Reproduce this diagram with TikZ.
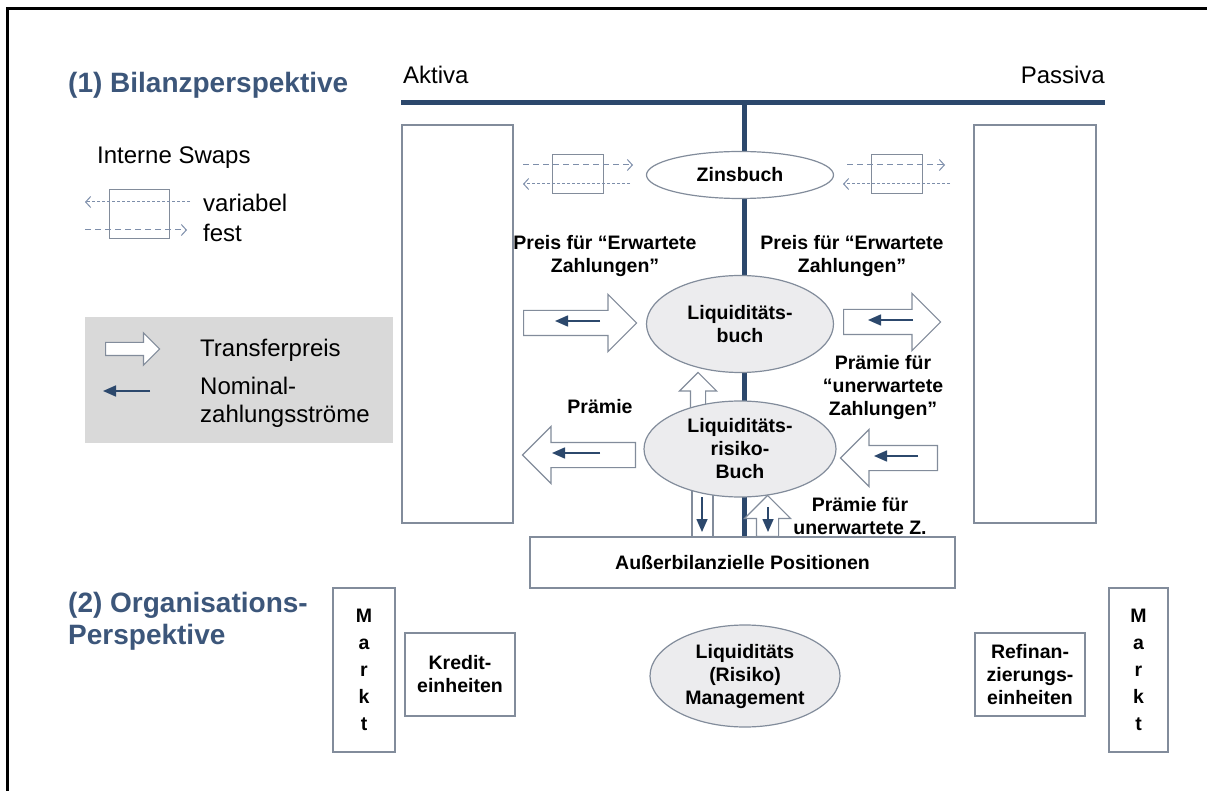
\documentclass[tikz,border=0pt]{standalone}
\usepackage{fontspec}
\setmainfont{Liberation Sans}
\usetikzlibrary{arrows.meta,shapes.geometric,shapes.arrows}
\definecolor{linieblau}{RGB}{44,72,108}
\definecolor{titelblau}{RGB}{60,86,122}
\definecolor{rahmengrau}{RGB}{130,140,155}
\definecolor{swapgrau}{RGB}{125,142,170}
\definecolor{legendegrau}{RGB}{217,217,217}
\definecolor{buchgrau}{RGB}{236,236,238}
\newcommand{\titelschrift}{\fontsize{28}{32}\selectfont\bfseries}
\newcommand{\fettschrift}{\fontsize{19.5}{23}\selectfont\bfseries}
\newcommand{\textschrift}{\fontsize{24}{28}\selectfont}
\newcommand{\marktschrift}{\fontsize{19.5}{27}\selectfont\bfseries}

\begin{document}
\begin{tikzpicture}[x=1pt,y=-1pt,
	box/.style={draw=rahmengrau, line width=1.2pt, fill=white, inner sep=0pt, align=center, font=\fettschrift},
	buch/.style={ellipse, draw=rahmengrau, line width=1.2pt, fill=buchgrau, inner sep=0pt, align=center, font=\fettschrift},
	transfer/.style={single arrow, draw=rahmengrau, line width=1.2pt, fill=white, inner sep=12pt, single arrow head extend=16pt, minimum height=#1},
	nominal/.style={linieblau, line width=1.6pt, -{Triangle[length=13pt,width=11pt]}},
	fest/.style={swapgrau, line width=1pt, dash pattern=on 6pt off 4pt, -{Straight Barb[length=5pt,width=11pt]}},
	variabel/.style={swapgrau, line width=1pt, dash pattern=on 3pt off 2pt, -{Straight Barb[length=5pt,width=11pt]}},
	swapbox/.style={draw=rahmengrau, line width=1pt},
	beschr/.style={align=center, font=\fettschrift, inner sep=0pt},
	titel/.style={align=left, font=\titelschrift, text=titelblau, inner sep=0pt, anchor=west}]
	%%%%% START %%%%%
	\useasboundingbox (0,0) rectangle (1207,791);
	
	% frame
	\draw[line width=3pt] (7,791) -- (7,9) -- (1207,9);
	
	% headings
	\node[titel] (bilanz) at (68,85) {(1) Bilanzperspektive};
	\node[titel] (orga) at (68,621) {(2) Organisations-\\Perspektive};
	\node[font=\textschrift, inner sep=0pt, anchor=west] (aktiva) at (403,75) {Aktiva};
	\node[font=\textschrift, inner sep=0pt, anchor=east] (passiva) at (1105,75) {Passiva};
	
	% balance sheet lines
	\draw[linieblau, line width=5pt] (401,103) -- (1105,103);
	\draw[linieblau, line width=5pt] (744,103) -- (744,537);
	
	\node[box, minimum width=111, minimum height=398] (aktivseite) at (457.5,324) {};
	\node[box, minimum width=122, minimum height=398] (passivseite) at (1035,324) {};
	
	% legend swaps
	\node[font=\textschrift, inner sep=0pt, anchor=west] (swaps) at (97,158) {Interne Swaps};
	\draw[swapbox] (109,190) rectangle (169,239);
	\draw[variabel] (190,202) -- (85,202);
	\draw[fest] (85,230) -- (187,230);
	\node[font=\textschrift, inner sep=0pt, anchor=west] (var) at (203,203) {variabel};
	\node[font=\textschrift, inner sep=0pt, anchor=west] (fix) at (203,233) {fest};
	
	% legend transfer prices
	\fill[legendegrau] (85,317) rectangle (393,443);
	\node[transfer=54, inner sep=6pt, single arrow head extend=9.5pt, anchor=tail] (legpfeil) at (105,349) {};
	\node[font=\textschrift, inner sep=0pt, anchor=west] (tp) at (200,350) {Transferpreis};
	\draw[nominal] (150,391) -- (103,391);
	\node[font=\textschrift, inner sep=0pt, anchor=west, align=left] (nz) at (200,402) {Nominal-\\zahlungsströme};
	
	% swaps left and right of Zinsbuch
	\draw[swapbox] (552,155) rectangle (603,194);
	\draw[fest] (523,165) -- (633,165);
	\draw[variabel] (630,184) -- (523,184);
	\draw[swapbox] (871,155) rectangle (922,194);
	\draw[fest] (847,165) -- (945,165);
	\draw[variabel] (950,184) -- (843,184);
	
	% arrows behind the books
	\node[transfer=37, inner sep=7pt, single arrow head extend=11pt, shape border rotate=90, anchor=tail] (aufwaerts) at (698,410) {};
	\draw[draw=rahmengrau, line width=1.2pt, fill=white] (692,470) rectangle (713,537);
	
	% books
	\node[buch, fill=white, minimum width=187, minimum height=47] (zins) at (740,175) {Zinsbuch};
	\node[buch, minimum width=187, minimum height=97] (liq) at (740,324) {Liquiditäts-\\buch};
	\node[buch, minimum width=192, minimum height=96] (risiko) at (740,449) {Liquiditäts-\\risiko-\\Buch};
	
	% texts
	\node[beschr] (preisL) at (605,256) {Preis für “Erwartete\\Zahlungen”};
	\node[beschr] (preisR) at (852,256) {Preis für “Erwartete\\Zahlungen”};
	\node[beschr] (praemie) at (600,407) {Prämie};
	\node[beschr] (praemieR) at (883,388) {Prämie für\\“unerwartete\\Zahlungen”};
	\node[beschr] (praemieZ) at (860,516) {Prämie für\\unerwartete Z.};
	
	% transfer price arrows
	\node[transfer=113, anchor=tail] (tpL) at (523,323) {};
	\node[transfer=97, anchor=tail] (tpR) at (843,322) {};
	\node[transfer=113, shape border rotate=180, anchor=tail] (prL) at (636,455) {};
	\node[transfer=97, shape border rotate=180, anchor=tail] (prR) at (938,458) {};
	\node[transfer=41, inner sep=10.5pt, single arrow head extend=12pt, shape border rotate=90, anchor=tail] (offbil) at (767.5,537) {};
	
	\draw[nominal] (600,321) -- (555,321);
	\draw[nominal] (913,320) -- (868,320);
	\draw[nominal] (600,453) -- (552,453);
	\draw[nominal] (918,456) -- (874,456);
	\draw[nominal] (702,497) -- (702,532);
	\draw[nominal] (768,507) -- (768,532);
	
	\node[box, minimum width=425, minimum height=51] (ausser) at (742.5,562.5) {Außerbilanzielle Positionen};
	
	% organisation
	\node[box, font=\marktschrift, minimum width=62, minimum height=164] (marktL) at (364,670) {M\\a\\r\\k\\t};
	\node[box, font=\marktschrift, minimum width=59, minimum height=164] (marktR) at (1138.5,670) {M\\a\\r\\k\\t};
	\node[box, minimum width=110, minimum height=83] (kredit) at (460,674.5) {Kredit-\\einheiten};
	\node[box, minimum width=110, minimum height=83] (refi) at (1030,674.5) {Refinan-\\zierungs-\\einheiten};
	\node[buch, minimum width=190, minimum height=102] (mgmt) at (745,676) {Liquiditäts\\(Risiko)\\Management};
	
	%%%%% END %%%%%
\end{tikzpicture}
\end{document}
